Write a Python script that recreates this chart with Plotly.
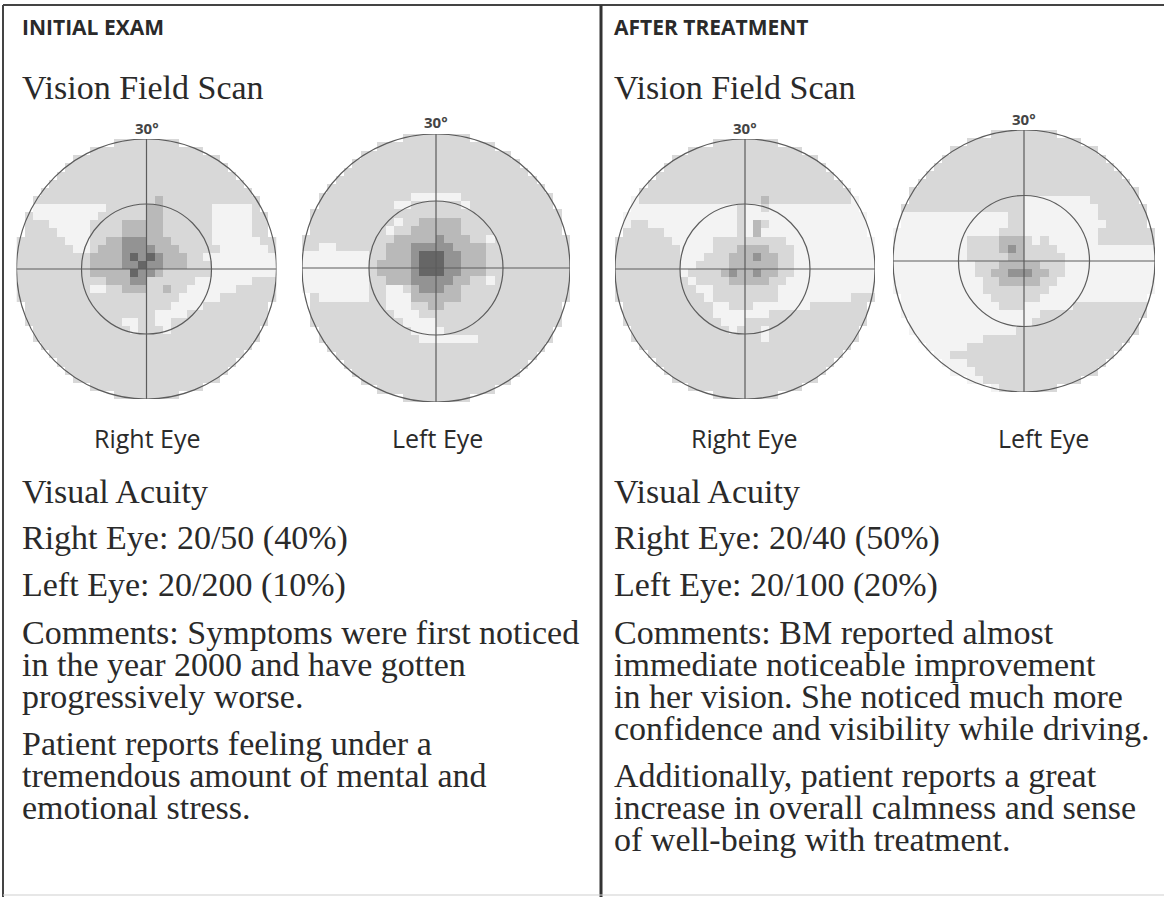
import plotly.graph_objects as go

W, H = 1164, 897

# ---------------- data ----------------
# Grey levels of the perimetry grid (32 x 32 cells, run-length coded per row,
# top row first). '.' = no reading, w = white, l = light, m = medium,
# d = dark, k = darkest
LEVEL_CODES = ['w', 'l', 'm', 'd', 'k']
LEVEL_COLORS = ['#f3f3f3', '#d8d8d8', '#b9b9b9', '#939393', '#666666']

RIGHT_EYE_INITIAL = [
    "12. 8l 12.", "9. 14l 9.", "7. 18l 7.", "6. 20l 6.", "5. 22l 5.", "4. 24l 4.",
    "3. 26l 3.", "2. 15l 1m 12l 2.",
    "2. 9w 5l 2m 6l 5w 1l 2.",
    "1. 1l 8w 6l 2m 6l 5w 2l 1.",
    "1. 3l 5w 4l 5m 6l 5w 2l 1.",
    "1. 4l 4w 4l 5m 6l 5w 2l 1.",
    "6l 3w 2l 2m 3d 3m 5l 6w 2l",
    "7l 2w 1l 3m 4d 3m 5l 6w 1l",
    "9l 4m 1d 1k 1d 1k 1d 3m 2l 9w",
    "9l 4m 2d 1k 2d 3m 3l 8w",
    "9l 5m 1k 2d 1m 6l 8w",
    "11l 3m 2d 6l 7w 3l",
    "9l 2w 2l 3m 2l 1m 2l 6w 5l",
    "20l 5w 7l",
    "1. 18l 4w 8l 1.",
    "1. 16l 4w 10l 1.",
    "1. 12l 2w 2l 2w 12l 1.",
    "2. 12l 1w 3l 1w 11l 2.",
    "2. 28l 2.", "3. 26l 3.", "4. 24l 4.", "5. 22l 5.", "6. 20l 6.", "7. 18l 7.",
    "9. 14l 9.", "12. 8l 12.",
]

LEFT_EYE_INITIAL = [
    "12. 8l 12.", "9. 14l 9.", "7. 18l 7.", "6. 20l 6.", "5. 22l 5.", "4. 24l 4.",
    "3. 26l 3.",
    "2. 11l 6w 11l 2.",
    "2. 9l 2w 6l 1w 10l 2.",
    "1. 30l 1.",
    "1. 10l 1w 2l 5m 12l 1.",
    "1. 9l 1w 2l 6m 12l 1.",
    "11l 5m 1d 3m 2l 1w 9l",
    "2l 2w 6l 3m 5d 4m 10l",
    "8w 2l 3m 1d 3k 2d 3m 10l",
    "8w 1l 4m 1d 3k 2d 3m 10l",
    "8w 1l 4m 1d 3k 2d 3m 10l",
    "8w 2l 3m 5d 2m 2l 1w 9l",
    "8w 2l 2w 1l 1m 3d 2m 13l",
    "1. 1l 6w 2l 3w 6m 13l",
    "1. 9l 3w 2l 2m 14l 1.",
    "1. 10l 3w 17l 1.",
    "1. 11l 4w 15l 1.",
    "2. 11l 4w 13l 2.",
    "2. 12l 7w 9l 2.",
    "3. 26l 3.", "4. 24l 4.", "5. 22l 5.", "6. 20l 6.", "7. 18l 7.",
    "9. 14l 9.", "12. 8l 12.",
]

RIGHT_EYE_AFTER = [
    "12. 8l 12.", "9. 14l 9.", "7. 18l 7.", "6. 20l 6.", "5. 22l 5.", "4. 24l 4.",
    "3. 26l 3.",
    "2. 1w 15l 1m 10l 1w 2.",
    "2. 13w 1l 2w 1l 11w 2.",
    "1. 14w 1l 15w 1.",
    "1. 1w 2l 11w 1l 1w 1m 1l 12w 1.",
    "1. 5l 9w 1l 1w 1m 13w 1.",
    "7l 5w 9l 11w",
    "8l 4w 3l 4m 3l 10w",
    "8l 3w 3l 3m 1d 2m 2l 10w",
    "8l 2w 4l 6m 2l 10w",
    "8l 1w 4l 1m 1d 2m 1d 2m 2l 10w",
    "9l 1w 4l 5m 2l 11w",
    "10l 2w 8l 12w",
    "11l 1w 8l 9w 3l",
    "1. 11l 2w 3l 7w 7l 1.",
    "1. 11l 7w 12l 1.",
    "1. 12l 3w 15l 1.",
    "2. 12l 1w 3l 1w 11l 2.",
    "2. 16l 1w 11l 2.",
    "3. 26l 3.", "4. 24l 4.", "5. 22l 5.", "6. 20l 6.", "7. 18l 7.",
    "9. 14l 9.", "12. 8l 12.",
]

LEFT_EYE_AFTER = [
    "12. 8l 12.", "9. 14l 9.", "7. 18l 7.", "6. 20l 6.", "5. 22l 5.", "4. 24l 4.",
    "3. 26l 3.", "2. 28l 2.",
    "2. 14l 8w 6l 2.",
    "1. 15l 9w 6l 1.",
    "1. 13w 2l 9w 6l 1.",
    "1. 13w 2l 10w 5l 1.",
    "13w 3l 9w 7l",
    "9w 4l 3m 1l 1w 1l 6w 7l",
    "9w 4l 1m 1d 1m 4l 12w",
    "9w 5l 2m 5l 11w",
    "10w 3l 5m 3l 11w",
    "10w 2l 2m 3d 2m 2l 11w",
    "11w 2l 5m 2l 12w",
    "11w 8l 13w",
    "1. 11w 6l 13w 1.",
    "1. 12w 3l 6w 9l 1.",
    "1. 17w 13l 1.",
    "2. 15w 13l 2.",
    "2. 13w 15l 2.",
    "3. 8w 18l 3.",
    "4. 5w 19l 4.",
    "5. 2w 20l 5.",
    "6. 3w 17l 6.",
    "7. 3w 15l 7.",
    "9. 2w 12l 9.",
    "12. 1w 7l 12.",
]

EYE_GRIDS = [RIGHT_EYE_INITIAL, LEFT_EYE_INITIAL, RIGHT_EYE_AFTER, LEFT_EYE_AFTER]
EYE_LABELS = ['Right Eye', 'Left Eye', 'Right Eye', 'Left Eye']
SCALE_LABEL = '30°'

PANEL_HEADERS = ['INITIAL EXAM', 'AFTER TREATMENT']
SECTION_TITLE = 'Vision Field Scan'
ACUITY_TITLE = 'Visual Acuity'

LEFT_ACUITY = ['Right Eye: 20/50 (40%)', 'Left Eye: 20/200 (10%)']
RIGHT_ACUITY = ['Right Eye: 20/40 (50%)', 'Left Eye: 20/100 (20%)']

LEFT_COMMENTS = [
    ['Comments: Symptoms were first noticed',
     'in the year 2000 and have gotten',
     'progressively worse.'],
    ['Patient reports feeling under a',
     'tremendous amount of mental and',
     'emotional stress.'],
]
RIGHT_COMMENTS = [
    ['Comments: BM reported almost',
     'immediate noticeable improvement',
     'in her vision. She noticed much more',
     'confidence and visibility while driving.'],
    ['Additionally, patient reports a great',
     'increase in overall calmness and sense',
     'of well-being with treatment.'],
]

# ---------------- layout constants ----------------
N = 32
EYE_GEOM = [(146.5, 269, 130), (436, 268, 134), (745, 269, 130), (1024, 261, 131)]
SCALE_Y = [128, 122, 128, 119]
LABEL_X = [147, 437, 745, 1043]
LABEL_Y = 438
PANEL_X = [20, 612]

SERIF = 'Liberation Serif, Times New Roman, serif'
SANS = 'Open Sans, Noto Sans, sans-serif'
TXT = '#2a2a2a'


def decode(rows):
    z = []
    for row in rows:
        vals = []
        for tok in row.split():
            n, c = int(tok[:-1]), tok[-1]
            v = None if c == '.' else LEVEL_CODES.index(c)
            vals.extend([v] * n)
        vals = (vals + [None] * N)[:N]
        z.append(vals)
    return z


def px(x):
    return x / W


def py(y):
    return 1 - y / H


colorscale = []
for i, c in enumerate(LEVEL_COLORS):
    colorscale.append([i / len(LEVEL_COLORS), c])
    colorscale.append([(i + 1) / len(LEVEL_COLORS), c])

fig = go.Figure()
shapes = []
annotations = []
half = N / 2
xs = [-half + 0.5 + j for j in range(N)]
ys = [half - 0.5 - i for i in range(N)]

for k, (grid, (cx, cy, r)) in enumerate(zip(EYE_GRIDS, EYE_GEOM)):
    n = k + 1
    sfx = '' if n == 1 else str(n)
    fig.add_trace(go.Heatmap(
        z=decode(grid), x=xs, y=ys, colorscale=colorscale,
        zmin=-0.5, zmax=len(LEVEL_COLORS) - 0.5, showscale=False,
        hoverinfo='skip', xaxis='x' + sfx, yaxis='y' + sfx,
    ))
    fig.layout['xaxis' + sfx] = dict(domain=[px(cx - r), px(cx + r)], range=[-half, half],
                                     visible=False, fixedrange=True)
    fig.layout['yaxis' + sfx] = dict(domain=[py(cy + r), py(cy - r)], range=[-half, half],
                                     visible=False, fixedrange=True)
    line = dict(color='#5c5c5c', width=1.2)
    for rad in (half, half / 2):
        shapes.append(dict(type='circle', xref='x' + sfx, yref='y' + sfx,
                           x0=-rad, x1=rad, y0=-rad, y1=rad, line=line, layer='above'))
    shapes.append(dict(type='line', xref='x' + sfx, yref='y' + sfx,
                       x0=-half, x1=half, y0=0, y1=0, line=line, layer='above'))
    shapes.append(dict(type='line', xref='x' + sfx, yref='y' + sfx,
                       x0=0, x1=0, y0=-half, y1=half, line=line, layer='above'))
    annotations.append(dict(text='<b>' + SCALE_LABEL + '</b>', x=px(cx), y=py(SCALE_Y[k]),
                            xref='paper', yref='paper', showarrow=False,
                            xanchor='center', yanchor='middle',
                            font=dict(family=SANS, size=15, color='#444')))
    annotations.append(dict(text=EYE_LABELS[k], x=px(LABEL_X[k]), y=py(LABEL_Y),
                            xref='paper', yref='paper', showarrow=False,
                            xanchor='center', yanchor='middle',
                            font=dict(family=SANS, size=25, color=TXT)))


def add_text(text, x, y, family=SERIF, size=34, bold=False):
    annotations.append(dict(text=('<b>%s</b>' % text) if bold else text,
                            x=px(x), y=py(y), xref='paper', yref='paper',
                            showarrow=False, xanchor='left', yanchor='middle',
                            font=dict(family=family, size=size, color=TXT)))


for p, (x0, acuity, comments) in enumerate(zip(PANEL_X, [LEFT_ACUITY, RIGHT_ACUITY],
                                                 [LEFT_COMMENTS, RIGHT_COMMENTS])):
    add_text(PANEL_HEADERS[p], x0, 27, family=SANS, size=21, bold=True)
    add_text(SECTION_TITLE, x0, 87)
    add_text(ACUITY_TITLE, x0, 492)
    add_text(acuity[0], x0, 538)
    add_text(acuity[1], x0, 585)
    y = 632
    for para in comments:
        for line_text in para:
            add_text(line_text, x0, y)
            y += 32
        y += 15

# borders
shapes.append(dict(type='line', xref='paper', yref='paper', x0=px(3), x1=1, y0=py(5), y1=py(5),
                   line=dict(color='#444', width=2)))
shapes.append(dict(type='line', xref='paper', yref='paper', x0=px(3), x1=px(3), y0=py(5), y1=0,
                   line=dict(color='#444', width=2)))
shapes.append(dict(type='line', xref='paper', yref='paper', x0=px(601), x1=px(601), y0=py(5), y1=0,
                   line=dict(color='#333', width=3)))
shapes.append(dict(type='line', xref='paper', yref='paper', x0=px(3), x1=1, y0=py(895), y1=py(895),
                   line=dict(color='#cfcfcf', width=1)))

fig.update_layout(
    width=W, height=H, margin=dict(l=0, r=0, t=0, b=0),
    paper_bgcolor='white', plot_bgcolor='rgba(0,0,0,0)',
    shapes=shapes, annotations=annotations, showlegend=False,
)

fig.write_html('out.html', config={'displayModeBar': False},
               post_script="document.body.style.margin='0px';document.body.style.padding='0px';")
